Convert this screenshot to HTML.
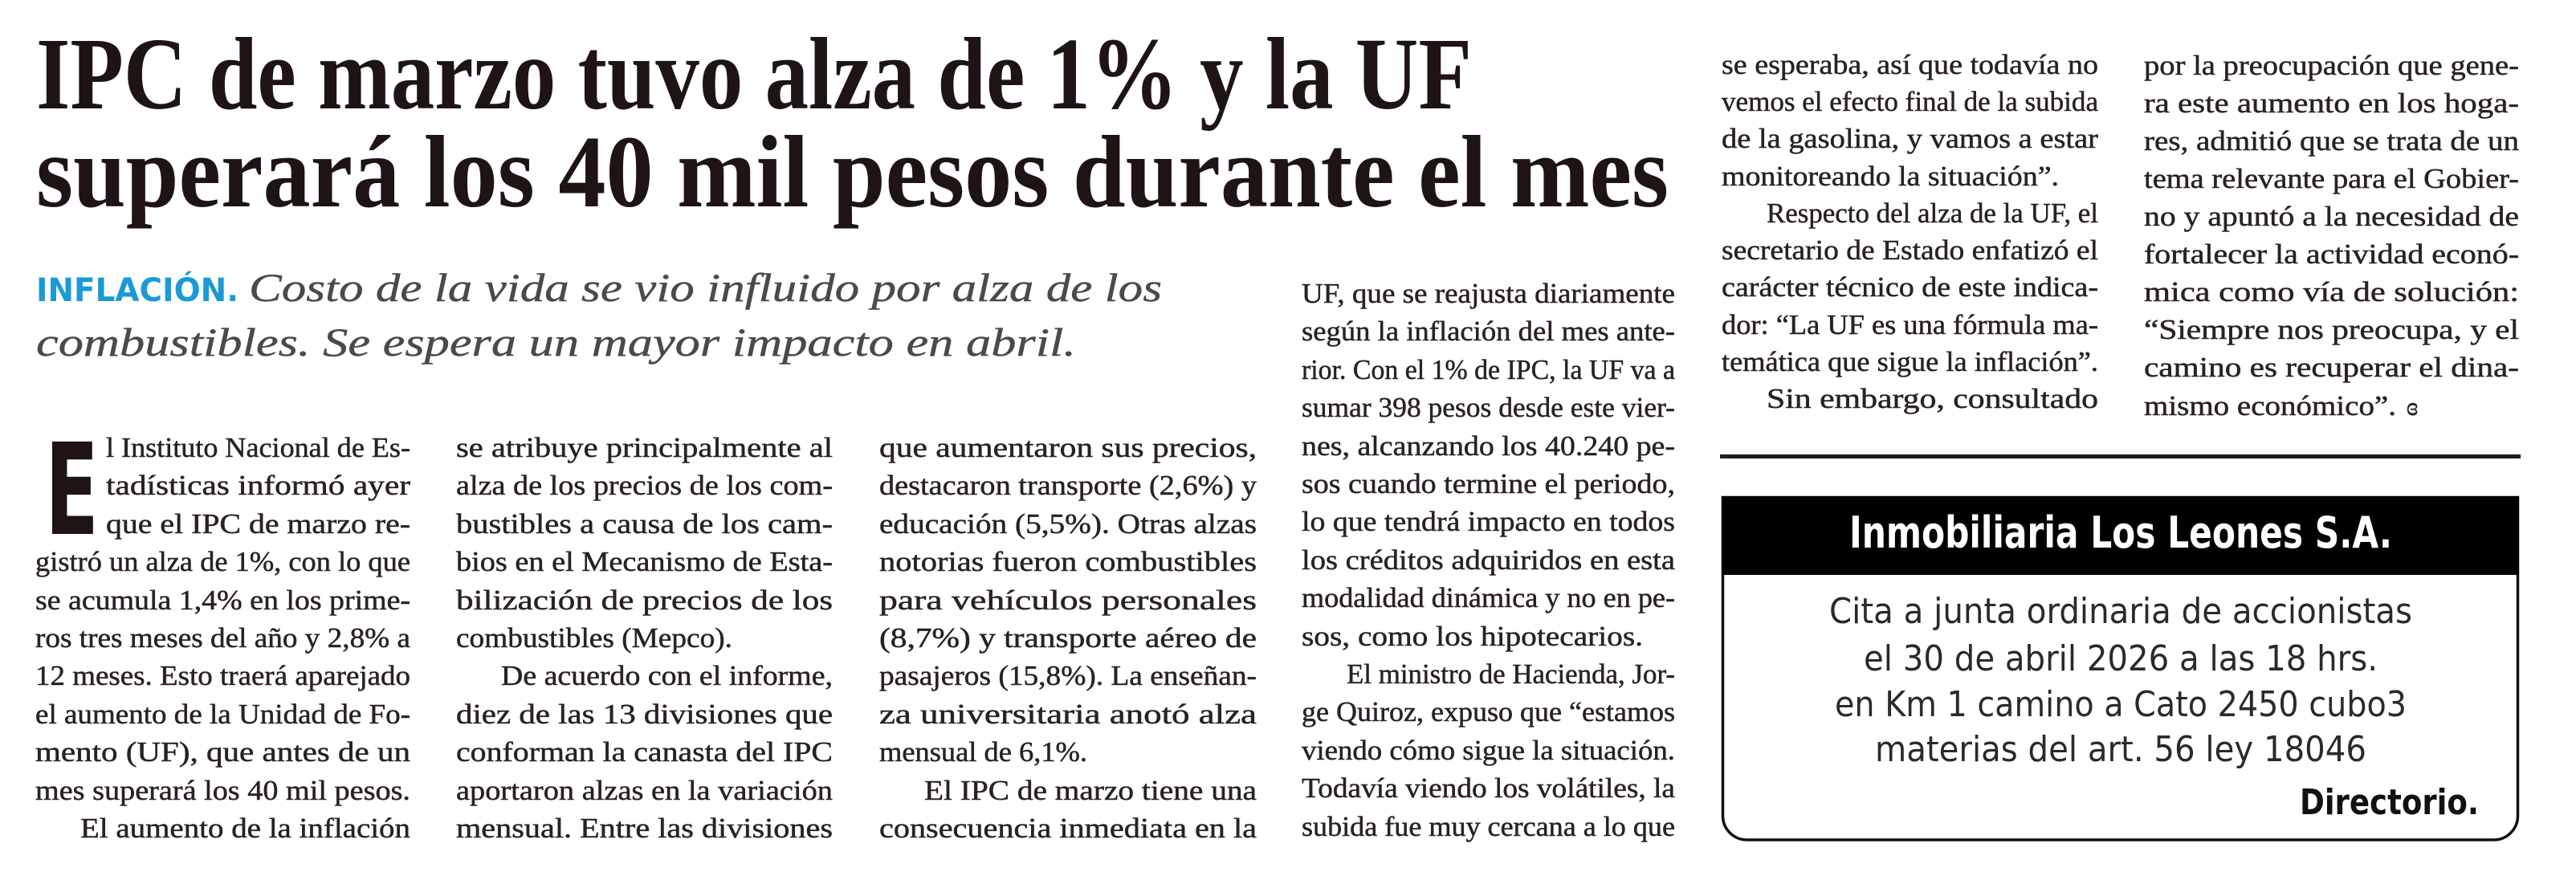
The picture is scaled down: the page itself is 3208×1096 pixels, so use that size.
<!DOCTYPE html>
<html><head><meta charset="utf-8"><style>
html,body{margin:0;padding:0;background:#fff;}
svg{display:block}
.t{font-family:"Liberation Serif",serif;font-weight:bold;fill:#1e1414;font-size:128px}
.b{font-family:"Liberation Serif",serif;font-size:35px;fill:#2a2222;stroke:#2a2222;stroke-width:0.5px}
.s{font-family:"Liberation Serif",serif;font-style:italic;font-size:50px;fill:#4a4a4a;stroke:#4a4a4a;stroke-width:0.4px}
.a{font-family:"DejaVu Sans","Liberation Sans",sans-serif;}
</style></head><body>
<svg width="3208" height="1096" viewBox="0 0 3208 1096" xmlns="http://www.w3.org/2000/svg">
<rect width="3208" height="1096" fill="#fff"/>
<text class="t" x="45" y="135" textLength="1788" lengthAdjust="spacingAndGlyphs">IPC de marzo tuvo alza de 1% y la UF</text>
<text class="t" x="45" y="257" textLength="2033" lengthAdjust="spacingAndGlyphs">superará los 40 mil pesos durante el mes</text>

<text class="a" x="45" y="375" font-size="40" font-weight="bold" fill="#1a9ad6" textLength="252" lengthAdjust="spacingAndGlyphs">INFLACIÓN.</text>
<text class="s" x="310" y="375" textLength="1137" lengthAdjust="spacingAndGlyphs">Costo de la vida se vio influido por alza de los</text>
<text class="s" x="45" y="443" textLength="1295" lengthAdjust="spacingAndGlyphs">combustibles. Se espera un mayor impacto en abril.</text>

<text x="56" y="665" font-family="DejaVu Sans,sans-serif" font-weight="bold" font-size="158" fill="#1e1414" textLength="67" lengthAdjust="spacingAndGlyphs">E</text>

<g class="b">
<text x="132" y="569" textLength="379" lengthAdjust="spacingAndGlyphs">l Instituto Nacional de Es-</text>
<text x="132" y="616" textLength="379" lengthAdjust="spacingAndGlyphs">tadísticas informó ayer</text>
<text x="132" y="664" textLength="379" lengthAdjust="spacingAndGlyphs">que el IPC de marzo re-</text>
<text x="44" y="711" textLength="467" lengthAdjust="spacingAndGlyphs">gistró un alza de 1%, con lo que</text>
<text x="44" y="759" textLength="467" lengthAdjust="spacingAndGlyphs">se acumula 1,4% en los prime-</text>
<text x="44" y="806" textLength="467" lengthAdjust="spacingAndGlyphs">ros tres meses del año y 2,8% a</text>
<text x="44" y="853" textLength="467" lengthAdjust="spacingAndGlyphs">12 meses. Esto traerá aparejado</text>
<text x="44" y="901" textLength="467" lengthAdjust="spacingAndGlyphs">el aumento de la Unidad de Fo-</text>
<text x="44" y="948" textLength="467" lengthAdjust="spacingAndGlyphs">mento (UF), que antes de un</text>
<text x="44" y="996" textLength="467" lengthAdjust="spacingAndGlyphs">mes superará los 40 mil pesos.</text>
<text x="100" y="1043" textLength="411" lengthAdjust="spacingAndGlyphs">El aumento de la inflación</text>

<text x="568" y="569" textLength="469" lengthAdjust="spacingAndGlyphs">se atribuye principalmente al</text>
<text x="568" y="616" textLength="469" lengthAdjust="spacingAndGlyphs">alza de los precios de los com-</text>
<text x="568" y="664" textLength="469" lengthAdjust="spacingAndGlyphs">bustibles a causa de los cam-</text>
<text x="568" y="711" textLength="469" lengthAdjust="spacingAndGlyphs">bios en el Mecanismo de Esta-</text>
<text x="568" y="759" textLength="469" lengthAdjust="spacingAndGlyphs">bilización de precios de los</text>
<text x="568" y="806" textLength="344" lengthAdjust="spacingAndGlyphs">combustibles (Mepco).</text>
<text x="624" y="853" textLength="413" lengthAdjust="spacingAndGlyphs">De acuerdo con el informe,</text>
<text x="568" y="901" textLength="469" lengthAdjust="spacingAndGlyphs">diez de las 13 divisiones que</text>
<text x="568" y="948" textLength="469" lengthAdjust="spacingAndGlyphs">conforman la canasta del IPC</text>
<text x="568" y="996" textLength="469" lengthAdjust="spacingAndGlyphs">aportaron alzas en la variación</text>
<text x="568" y="1043" textLength="469" lengthAdjust="spacingAndGlyphs">mensual. Entre las divisiones</text>

<text x="1095" y="569" textLength="470" lengthAdjust="spacingAndGlyphs">que aumentaron sus precios,</text>
<text x="1095" y="616" textLength="470" lengthAdjust="spacingAndGlyphs">destacaron transporte (2,6%) y</text>
<text x="1095" y="664" textLength="470" lengthAdjust="spacingAndGlyphs">educación (5,5%). Otras alzas</text>
<text x="1095" y="711" textLength="470" lengthAdjust="spacingAndGlyphs">notorias fueron combustibles</text>
<text x="1095" y="759" textLength="470" lengthAdjust="spacingAndGlyphs">para vehículos personales</text>
<text x="1095" y="806" textLength="470" lengthAdjust="spacingAndGlyphs">(8,7%) y transporte aéreo de</text>
<text x="1095" y="853" textLength="470" lengthAdjust="spacingAndGlyphs">pasajeros (15,8%). La enseñan-</text>
<text x="1095" y="901" textLength="470" lengthAdjust="spacingAndGlyphs">za universitaria anotó alza</text>
<text x="1095" y="948" textLength="259" lengthAdjust="spacingAndGlyphs">mensual de 6,1%.</text>
<text x="1151" y="996" textLength="414" lengthAdjust="spacingAndGlyphs">El IPC de marzo tiene una</text>
<text x="1095" y="1043" textLength="470" lengthAdjust="spacingAndGlyphs">consecuencia inmediata en la</text>

<text x="1621" y="377" textLength="465" lengthAdjust="spacingAndGlyphs">UF, que se reajusta diariamente</text>
<text x="1621" y="424" textLength="465" lengthAdjust="spacingAndGlyphs">según la inflación del mes ante-</text>
<text x="1621" y="472" textLength="465" lengthAdjust="spacingAndGlyphs">rior. Con el 1% de IPC, la UF va a</text>
<text x="1621" y="519" textLength="465" lengthAdjust="spacingAndGlyphs">sumar 398 pesos desde este vier-</text>
<text x="1621" y="567" textLength="465" lengthAdjust="spacingAndGlyphs">nes, alcanzando los 40.240 pe-</text>
<text x="1621" y="614" textLength="465" lengthAdjust="spacingAndGlyphs">sos cuando termine el periodo,</text>
<text x="1621" y="661" textLength="465" lengthAdjust="spacingAndGlyphs">lo que tendrá impacto en todos</text>
<text x="1621" y="709" textLength="465" lengthAdjust="spacingAndGlyphs">los créditos adquiridos en esta</text>
<text x="1621" y="756" textLength="465" lengthAdjust="spacingAndGlyphs">modalidad dinámica y no en pe-</text>
<text x="1621" y="804" textLength="425" lengthAdjust="spacingAndGlyphs">sos, como los hipotecarios.</text>
<text x="1677" y="851" textLength="409" lengthAdjust="spacingAndGlyphs">El ministro de Hacienda, Jor-</text>
<text x="1621" y="898" textLength="465" lengthAdjust="spacingAndGlyphs">ge Quiroz, expuso que “estamos</text>
<text x="1621" y="946" textLength="465" lengthAdjust="spacingAndGlyphs">viendo cómo sigue la situación.</text>
<text x="1621" y="993" textLength="465" lengthAdjust="spacingAndGlyphs">Todavía viendo los volátiles, la</text>
<text x="1621" y="1041" textLength="465" lengthAdjust="spacingAndGlyphs">subida fue muy cercana a lo que</text>

<text x="2144" y="92" textLength="469" lengthAdjust="spacingAndGlyphs">se esperaba, así que todavía no</text>
<text x="2144" y="138" textLength="469" lengthAdjust="spacingAndGlyphs">vemos el efecto final de la subida</text>
<text x="2144" y="184" textLength="469" lengthAdjust="spacingAndGlyphs">de la gasolina, y vamos a estar</text>
<text x="2144" y="231" textLength="420" lengthAdjust="spacingAndGlyphs">monitoreando la situación”.</text>
<text x="2200" y="277" textLength="413" lengthAdjust="spacingAndGlyphs">Respecto del alza de la UF, el</text>
<text x="2144" y="323" textLength="469" lengthAdjust="spacingAndGlyphs">secretario de Estado enfatizó el</text>
<text x="2144" y="369" textLength="469" lengthAdjust="spacingAndGlyphs">carácter técnico de este indica-</text>
<text x="2144" y="416" textLength="469" lengthAdjust="spacingAndGlyphs">dor: “La UF es una fórmula ma-</text>
<text x="2144" y="462" textLength="469" lengthAdjust="spacingAndGlyphs">temática que sigue la inflación”.</text>
<text x="2200" y="508" textLength="413" lengthAdjust="spacingAndGlyphs">Sin embargo, consultado</text>

<text x="2670" y="93" textLength="467" lengthAdjust="spacingAndGlyphs">por la preocupación que gene-</text>
<text x="2670" y="140" textLength="467" lengthAdjust="spacingAndGlyphs">ra este aumento en los hoga-</text>
<text x="2670" y="187" textLength="467" lengthAdjust="spacingAndGlyphs">res, admitió que se trata de un</text>
<text x="2670" y="234" textLength="467" lengthAdjust="spacingAndGlyphs">tema relevante para el Gobier-</text>
<text x="2670" y="281" textLength="467" lengthAdjust="spacingAndGlyphs">no y apuntó a la necesidad de</text>
<text x="2670" y="328" textLength="467" lengthAdjust="spacingAndGlyphs">fortalecer la actividad econó-</text>
<text x="2670" y="375" textLength="467" lengthAdjust="spacingAndGlyphs">mica como vía de solución:</text>
<text x="2670" y="422" textLength="467" lengthAdjust="spacingAndGlyphs">“Siempre nos preocupa, y el</text>
<text x="2670" y="469" textLength="467" lengthAdjust="spacingAndGlyphs">camino es recuperar el dina-</text>
<text x="2670" y="517" textLength="314" lengthAdjust="spacingAndGlyphs">mismo económico”.</text>
<text x="2997" y="517" font-size="32">ɞ</text>
</g>

<rect x="2142" y="566" width="997" height="5" fill="#221a1a"/>

<path d="M2145.5 619.5 H3135.5 V1016 A30 30 0 0 1 3105.5 1046 H2175.5 A30 30 0 0 1 2145.5 1016 Z" fill="#fff" stroke="#111" stroke-width="3.5"/>
<rect x="2144" y="618" width="993" height="98" fill="#000"/>
<text class="a" x="2303" y="682" font-size="54" font-weight="bold" fill="#fff" textLength="676" lengthAdjust="spacingAndGlyphs">Inmobiliaria Los Leones S.A.</text>
<g class="a" font-size="44" fill="#2a2a2a">
<text x="2278" y="776" textLength="726" lengthAdjust="spacingAndGlyphs">Cita a junta ordinaria de accionistas</text>
<text x="2321" y="835" textLength="640" lengthAdjust="spacingAndGlyphs">el 30 de abril 2026 a las 18 hrs.</text>
<text x="2285" y="892" textLength="712" lengthAdjust="spacingAndGlyphs">en Km 1 camino a Cato 2450 cubo3</text>
<text x="2335" y="948" textLength="612" lengthAdjust="spacingAndGlyphs">materias del art. 56 ley 18046</text>
<text x="2864" y="1014" font-weight="bold" fill="#111" textLength="223" lengthAdjust="spacingAndGlyphs">Directorio.</text>
</g>
</svg>
</body></html>
